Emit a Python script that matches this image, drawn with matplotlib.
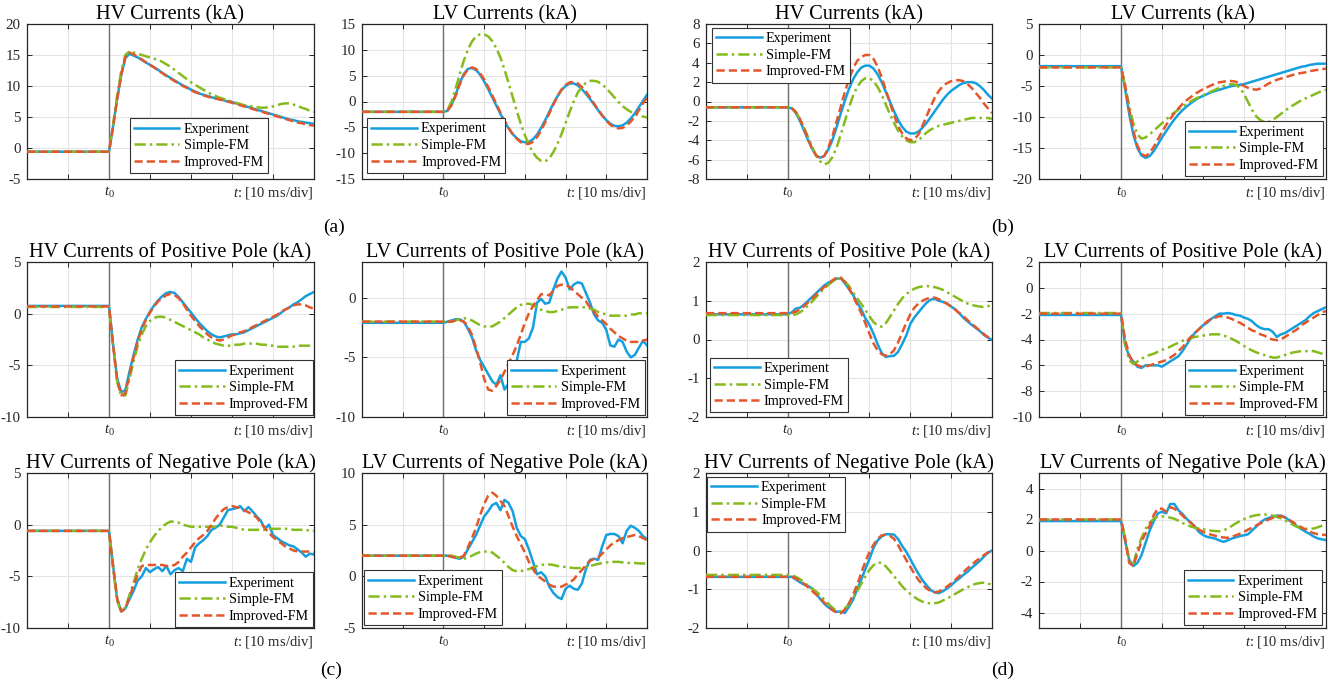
import numpy as np
import matplotlib
matplotlib.use('Agg')
import matplotlib.pyplot as plt

plt.rcParams['font.family'] = ['Liberation Serif', 'DejaVu Serif']
plt.rcParams['mathtext.fontset'] = 'custom'
plt.rcParams['mathtext.rm'] = 'Liberation Serif'
plt.rcParams['mathtext.it'] = 'Liberation Serif:italic'
plt.rcParams['axes.unicode_minus'] = False

W, H = 1342, 685
BLUE, GREEN, RED = '#14a0e0', '#86bb1e', '#e4572a'

# time base in divisions (t0 = 2), sampled every 0.1 div after the fault
t = np.round(np.arange(2.0, 7.05, 0.1), 1)

# ---------------- (a) ----------------
hv_a_exp = [-0.6, 3.5, 8.0, 11.8, 14.5, 15.2, 14.9, 14.6, 14.2, 13.8,
            13.4, 13.0, 12.6, 12.1, 11.7, 11.3, 10.9, 10.5, 10.1, 9.8,
            9.4, 9.1, 8.8, 8.6, 8.4, 8.2, 8.0, 7.9, 7.7, 7.5,
            7.4, 7.2, 7.0, 6.8, 6.6, 6.4, 6.2, 6.0, 5.8, 5.6,
            5.4, 5.2, 5.0, 4.8, 4.6, 4.5, 4.3, 4.2, 4.1, 4.0, 3.9]
hv_a_sim = [-0.6, 3.8, 8.5, 12.5, 15.0, 15.6, 15.4, 15.2, 15.0, 14.8,
            14.6, 14.4, 14.2, 13.9, 13.5, 13.1, 12.6, 12.1, 11.6, 11.1,
            10.6, 10.2, 9.8, 9.4, 9.0, 8.7, 8.4, 8.1, 7.9, 7.7,
            7.5, 7.3, 7.1, 6.9, 6.8, 6.7, 6.6, 6.5, 6.5, 6.6,
            6.7, 6.9, 7.1, 7.2, 7.2, 7.0, 6.8, 6.5, 6.3, 6.0, 5.8]
hv_a_imp = [-0.6, 3.4, 7.9, 11.9, 14.7, 15.4, 15.1, 14.7, 14.3, 13.8,
            13.4, 13.0, 12.5, 12.1, 11.6, 11.2, 10.8, 10.4, 10.0, 9.7,
            9.3, 9.0, 8.8, 8.5, 8.3, 8.1, 8.0, 7.8, 7.7, 7.5,
            7.3, 7.1, 6.9, 6.7, 6.5, 6.3, 6.1, 5.9, 5.7, 5.5,
            5.3, 5.1, 4.9, 4.7, 4.5, 4.3, 4.1, 4.0, 3.8, 3.7, 3.6]

lv_a_exp = [-2.0, -1.8, -0.6, 1.3, 3.6, 5.3, 6.3, 6.5, 6.1, 5.2,
            3.9, 2.4, 0.8, -0.8, -2.4, -3.9, -5.2, -6.3, -7.1, -7.7,
            -7.9, -7.8, -7.3, -6.4, -5.1, -3.6, -2.0, -0.4, 1.0, 2.2,
            3.0, 3.5, 3.5, 3.1, 2.4, 1.5, 0.5, -0.6, -1.7, -2.7,
            -3.6, -4.3, -4.7, -4.8, -4.6, -4.1, -3.3, -2.3, -1.1, 0.1, 1.3]
lv_a_sim = [-2.0, -1.6, 0.0, 2.5, 5.3, 7.9, 10.0, 11.6, 12.6, 13.0,
            13.0, 12.6, 11.7, 10.3, 8.5, 6.2, 3.6, 0.9, -1.8, -4.3,
            -6.5, -8.4, -9.9, -10.9, -11.5, -11.6, -11.0, -9.8, -8.2, -6.3,
            -4.2, -2.0, 0.0, 1.7, 2.9, 3.6, 4.0, 4.0, 3.8, 3.3,
            2.6, 1.7, 0.8, -0.1, -0.9, -1.5, -2.0, -2.4, -2.7, -2.9, -3.1]
lv_a_imp = [-2.0, -1.8, -0.7, 1.1, 3.3, 5.1, 6.2, 6.6, 6.3, 5.5,
            4.3, 2.8, 1.2, -0.5, -2.1, -3.7, -5.1, -6.3, -7.2, -7.9,
            -8.2, -8.2, -7.8, -6.9, -5.6, -4.0, -2.3, -0.6, 1.0, 2.3,
            3.2, 3.7, 3.8, 3.5, 2.8, 1.9, 0.8, -0.4, -1.6, -2.7,
            -3.7, -4.5, -5.0, -5.2, -5.1, -4.7, -3.9, -2.9, -1.7, -0.4, 0.8]

# ---------------- (b) ----------------
hv_b_exp = [-0.6, -0.7, -1.2, -2.0, -3.0, -4.0, -4.9, -5.6, -5.8, -5.6,
            -4.9, -3.9, -2.6, -1.2, 0.1, 1.3, 2.3, 3.0, 3.5, 3.7,
            3.7, 3.4, 2.8, 2.0, 1.0, 0.0, -1.0, -1.9, -2.6, -3.1,
            -3.3, -3.3, -3.1, -2.7, -2.2, -1.6, -1.0, -0.4, 0.2, 0.7,
            1.1, 1.4, 1.7, 1.9, 2.0, 2.0, 1.9, 1.6, 1.2, 0.7, 0.3]
hv_b_sim = [-0.6, -0.7, -1.1, -1.8, -2.7, -3.7, -4.7, -5.6, -6.2, -6.5,
            -6.3, -5.7, -4.7, -3.4, -2.0, -0.6, 0.6, 1.5, 2.1, 2.4,
            2.4, 2.1, 1.5, 0.7, -0.3, -1.3, -2.2, -3.0, -3.6, -4.0,
            -4.2, -4.2, -4.0, -3.6, -3.2, -2.9, -2.7, -2.5, -2.4, -2.3,
            -2.2, -2.1, -2.0, -1.9, -1.8, -1.7, -1.7, -1.7, -1.7, -1.7, -1.8]
hv_b_imp = [-0.6, -0.7, -1.1, -1.8, -2.8, -3.9, -4.9, -5.6, -5.9, -5.6,
            -4.7, -3.5, -2.0, -0.5, 1.0, 2.3, 3.4, 4.2, 4.6, 4.8,
            4.8, 4.4, 3.6, 2.5, 1.2, -0.1, -1.4, -2.5, -3.3, -3.8,
            -4.0, -3.9, -3.4, -2.5, -1.5, -0.5, 0.4, 1.1, 1.6, 1.9,
            2.1, 2.2, 2.2, 2.1, 1.8, 1.4, 0.9, 0.4, -0.2, -0.7, -1.2]

lv_b_exp = [-1.8, -5.5, -9.5, -12.8, -15.0, -16.2, -16.6, -16.3, -15.5, -14.4,
            -13.3, -12.3, -11.3, -10.4, -9.6, -8.9, -8.3, -7.8, -7.3, -6.9,
            -6.6, -6.3, -6.0, -5.8, -5.6, -5.4, -5.2, -5.0, -4.9, -4.8,
            -4.7, -4.5, -4.3, -4.1, -3.9, -3.7, -3.5, -3.3, -3.1, -2.9,
            -2.7, -2.5, -2.3, -2.1, -1.9, -1.8, -1.6, -1.5, -1.4, -1.4, -1.4]
lv_b_sim = [-2.0, -5.0, -8.3, -11.0, -12.8, -13.5, -13.3, -12.8, -12.2, -11.6,
            -11.0, -10.4, -9.8, -9.3, -8.8, -8.3, -7.9, -7.5, -7.1, -6.8,
            -6.5, -6.2, -5.9, -5.6, -5.3, -5.0, -4.8, -4.7, -4.8, -5.3,
            -6.3, -7.6, -8.9, -9.9, -10.5, -10.8, -10.8, -10.5, -10.0, -9.5,
            -9.0, -8.5, -8.1, -7.7, -7.3, -7.0, -6.7, -6.4, -6.1, -5.8, -5.6]
lv_b_imp = [-2.0, -4.8, -8.8, -12.2, -14.6, -16.0, -16.3, -15.8, -14.8, -13.6,
            -12.4, -11.3, -10.3, -9.4, -8.6, -7.9, -7.3, -6.8, -6.3, -5.9,
            -5.5, -5.2, -4.9, -4.6, -4.4, -4.3, -4.2, -4.2, -4.3, -4.6,
            -5.0, -5.3, -5.5, -5.6, -5.4, -5.0, -4.6, -4.3, -4.0, -3.8,
            -3.6, -3.4, -3.2, -3.0, -2.9, -2.8, -2.6, -2.5, -2.4, -2.3, -2.2]

# ---------------- (c) ----------------
hvp_c_exp = [0.75, -3.0, -6.3, -7.6, -7.4, -5.6, -4.0, -2.5, -1.3, -0.5,
             0.2, 0.8, 1.3, 1.7, 2.0, 2.1, 2.0, 1.6, 1.1, 0.6,
             0.1, -0.4, -0.9, -1.3, -1.7, -2.0, -2.2, -2.3, -2.2, -2.1,
             -2.0, -2.0, -1.9, -1.8, -1.6, -1.4, -1.2, -1.0, -0.8, -0.6,
             -0.4, -0.2, 0.1, 0.4, 0.6, 0.9, 1.1, 1.4, 1.7, 1.9, 2.1]
hvp_c_sim = [0.65, -3.2, -6.6, -8.0, -7.9, -6.3, -4.6, -3.1, -2.0, -1.2,
             -0.7, -0.4, -0.3, -0.3, -0.4, -0.6, -0.8, -1.0, -1.2, -1.4,
             -1.6, -1.8, -2.0, -2.3, -2.5, -2.7, -2.9, -3.0, -3.1, -3.1,
             -3.1, -3.0, -3.0, -2.9, -2.9, -2.9, -2.9, -3.0, -3.0, -3.1,
             -3.1, -3.2, -3.2, -3.2, -3.2, -3.2, -3.1, -3.1, -3.1, -3.1, -3.1]
hvp_c_imp = [0.7, -3.0, -6.5, -7.9, -7.7, -5.9, -4.2, -2.7, -1.5, -0.6,
             0.1, 0.7, 1.2, 1.5, 1.8, 1.9, 1.8, 1.5, 1.0, 0.4,
             -0.2, -0.7, -1.2, -1.6, -2.0, -2.3, -2.5, -2.6, -2.5, -2.3,
             -2.1, -2.0, -1.8, -1.7, -1.5, -1.3, -1.1, -0.9, -0.7, -0.5,
             -0.3, -0.1, 0.2, 0.4, 0.6, 0.8, 0.9, 0.9, 0.8, 0.6, 0.5]

lvp_c_exp = [-2.1, -2.0, -1.9, -1.8, -1.8, -2.0, -2.6, -3.3, -4.4, -5.2,
             -5.8, -6.4, -7.0, -7.3, -6.5, -7.7, -7.2, -6.4, -5.3, -3.7,
             -3.7, -3.4, -2.5, -0.4, -0.1, -0.5, -0.4, 0.7, 1.6, 2.2,
             1.7, 0.7, 1.1, 1.3, 1.2, 0.4, -0.4, -1.4, -1.9, -2.1,
             -2.7, -4.0, -4.1, -3.5, -3.7, -4.5, -5.0, -4.8, -4.2, -3.6, -4.0]
lvp_c_sim = [-2.0, -2.0, -2.0, -1.9, -1.8, -1.7, -1.8, -1.9, -2.1, -2.3,
             -2.4, -2.4, -2.4, -2.2, -2.0, -1.7, -1.4, -1.1, -0.8, -0.6,
             -0.5, -0.5, -0.6, -0.8, -1.0, -1.1, -1.2, -1.2, -1.1, -1.0,
             -0.9, -0.8, -0.8, -0.8, -0.8, -0.8, -0.9, -1.0, -1.2, -1.3,
             -1.4, -1.5, -1.5, -1.5, -1.5, -1.5, -1.4, -1.4, -1.3, -1.3, -1.3]
lvp_c_imp = [-2.0, -2.0, -2.0, -1.9, -1.9, -2.0, -2.4, -3.1, -4.2, -5.4,
             -6.8, -7.7, -7.8, -7.4, -6.9, -6.2, -5.5, -4.8, -4.0, -3.1,
             -2.1, -1.3, -0.7, -0.2, 0.3, 0.3, 0.2, 0.6, 1.0, 1.1,
             1.1, 0.9, 0.6, 0.3, 0.0, -0.3, -0.8, -1.2, -1.6, -1.9,
             -2.2, -2.6, -2.9, -3.2, -3.4, -3.6, -3.7, -3.7, -3.7, -3.6, -3.5]

hvn_c_exp = [-0.6, -4.0, -7.2, -8.4, -8.1, -7.2, -6.4, -5.4, -5.0, -4.2,
             -4.6, -4.3, -4.1, -4.5, -4.0, -4.8, -4.4, -4.2, -4.5, -3.3,
             -3.6, -2.2, -1.8, -1.5, -1.1, -0.5, -0.3, 0.0, 0.7, 1.4,
             1.5, 1.6, 1.8, 1.3, 1.7, 1.3, 0.8, 0.4, -0.4, 0.0,
             -1.0, -1.3, -1.6, -1.8, -2.0, -2.1, -2.4, -2.7, -3.1, -2.8, -2.9]
hvn_c_sim = [-0.6, -4.2, -7.4, -8.4, -8.0, -6.8, -5.6, -4.3, -3.3, -2.4,
             -1.7, -1.1, -0.6, -0.2, 0.1, 0.3, 0.3, 0.2, 0.0, -0.1,
             -0.2, -0.2, -0.2, -0.2, -0.2, -0.2, -0.2, -0.1, -0.1, -0.2,
             -0.2, -0.3, -0.4, -0.5, -0.5, -0.5, -0.5, -0.5, -0.5, -0.4,
             -0.4, -0.4, -0.4, -0.4, -0.4, -0.5, -0.5, -0.5, -0.5, -0.6, -0.6]
hvn_c_imp = [-0.6, -4.0, -7.2, -8.4, -8.1, -7.0, -5.9, -4.8, -4.0, -3.9,
             -3.9, -3.9, -3.9, -3.9, -4.0, -4.0, -3.9, -3.6, -3.1, -2.7,
             -2.2, -1.7, -1.3, -1.0, -0.6, 0.0, 0.6, 1.1, 1.5, 1.7,
             1.8, 1.7, 1.6, 1.4, 1.2, 1.0, 0.7, 0.2, -0.3, -0.8,
             -1.2, -1.5, -1.8, -2.1, -2.3, -2.5, -2.6, -2.6, -2.6, -2.6, -2.7]

lvn_c_exp = [2.0, 2.0, 1.9, 1.8, 1.7, 1.9, 2.6, 3.3, 4.0, 4.9,
             5.8, 6.3, 6.9, 7.1, 6.4, 7.4, 7.1, 6.3, 4.7, 3.9,
             3.6, 2.6, 1.4, 0.2, 0.4, 0.0, -1.0, -1.6, -2.0, -2.2,
             -1.2, -0.9, -1.2, -1.3, -0.7, 0.7, 1.6, 1.7, 1.6, 2.9,
             4.0, 4.1, 4.1, 3.9, 3.2, 4.4, 4.9, 4.7, 4.4, 3.9, 3.6]
lvn_c_sim = [2.0, 2.0, 2.0, 1.9, 1.8, 1.7, 1.8, 2.0, 2.2, 2.35,
             2.4, 2.4, 2.3, 2.0, 1.7, 1.3, 0.9, 0.6, 0.5, 0.5,
             0.6, 0.7, 0.85, 1.0, 1.1, 1.15, 1.15, 1.1, 1.0, 0.95,
             0.9, 0.85, 0.8, 0.8, 0.8, 0.9, 1.0, 1.1, 1.2, 1.3,
             1.35, 1.4, 1.4, 1.4, 1.35, 1.3, 1.3, 1.3, 1.25, 1.25, 1.25]
lvn_c_imp = [2.0, 2.0, 1.9, 1.8, 1.8, 2.0, 2.8, 3.7, 4.7, 5.9,
             7.0, 7.8, 8.1, 7.8, 7.3, 6.8, 5.8, 4.8, 3.9, 3.1,
             2.3, 1.4, 0.7, 0.1, -0.2, -0.5, -0.8, -1.0, -1.0, -1.0,
             -0.8, -0.6, -0.3, 0.2, 0.6, 1.1, 1.5, 1.7, 1.8, 2.2,
             2.6, 3.0, 3.3, 3.5, 3.7, 3.8, 3.9, 4.0, 3.9, 3.7, 3.5]

# ---------------- (d) ----------------
hvp_d_exp = [0.65, 0.7, 0.8, 0.82, 0.9, 1.0, 1.1, 1.2, 1.3, 1.4,
             1.47, 1.52, 1.57, 1.58, 1.45, 1.3, 1.15, 0.95, 0.78, 0.55,
             0.38, 0.15, -0.12, -0.35, -0.45, -0.43, -0.42, -0.32, -0.12, 0.1,
             0.4, 0.57, 0.7, 0.83, 0.95, 1.03, 1.05, 1.0, 0.97, 0.93,
             0.85, 0.78, 0.68, 0.56, 0.47, 0.38, 0.3, 0.22, 0.12, 0.05, -0.01]
hvp_d_sim = [0.63, 0.63, 0.65, 0.7, 0.78, 0.88, 0.98, 1.1, 1.22, 1.32,
             1.41, 1.5, 1.56, 1.57, 1.5, 1.38, 1.22, 1.06, 0.92, 0.76,
             0.6, 0.45, 0.36, 0.33, 0.42, 0.58, 0.75, 0.92, 1.06, 1.17,
             1.25, 1.31, 1.35, 1.37, 1.38, 1.37, 1.35, 1.32, 1.28, 1.22,
             1.16, 1.1, 1.04, 0.98, 0.93, 0.89, 0.87, 0.85, 0.84, 0.86, 0.9]
hvp_d_imp = [0.68, 0.69, 0.72, 0.78, 0.86, 0.96, 1.06, 1.16, 1.26, 1.36,
             1.44, 1.53, 1.6, 1.6, 1.48, 1.32, 1.12, 0.9, 0.68, 0.42,
             0.15, -0.1, -0.28, -0.38, -0.42, -0.38, -0.28, -0.08, 0.18, 0.42,
             0.65, 0.82, 0.93, 1.0, 1.05, 1.08, 1.08, 1.04, 0.98, 0.92,
             0.85, 0.77, 0.68, 0.6, 0.5, 0.41, 0.32, 0.23, 0.14, 0.06, 0.0]

lvp_d_exp = [-2.1, -4.4, -5.3, -5.7, -6.1, -6.2, -6.0, -6.0, -6.0, -6.0,
             -6.1, -5.9, -5.7, -5.5, -5.3, -4.9, -4.4, -3.9, -3.5, -3.2,
             -2.9, -2.7, -2.4, -2.2, -2.0, -2.0, -1.95, -2.0, -2.1, -2.15,
             -2.3, -2.4, -2.6, -2.9, -3.1, -3.2, -3.2, -3.4, -3.8, -3.6,
             -3.5, -3.3, -3.1, -2.9, -2.7, -2.5, -2.2, -1.95, -1.8, -1.65, -1.5]
lvp_d_sim = [-1.95, -4.3, -5.6, -5.9, -5.7, -5.5, -5.3, -5.2, -5.1, -4.95,
             -4.8, -4.7, -4.55, -4.4, -4.25, -4.1, -4.0, -3.9, -3.8, -3.75,
             -3.7, -3.65, -3.6, -3.6, -3.6, -3.7, -3.8, -3.95, -4.1, -4.3,
             -4.5, -4.7, -4.85, -5.0, -5.1, -5.2, -5.3, -5.4, -5.4, -5.3,
             -5.2, -5.1, -5.0, -4.95, -4.9, -4.9, -4.9, -4.9, -5.0, -5.1, -5.2]
lvp_d_imp = [-2.0, -4.0, -5.2, -5.8, -6.0, -6.1, -6.1, -6.0, -5.9, -5.8,
             -5.7, -5.6, -5.4, -5.2, -4.9, -4.6, -4.2, -3.8, -3.5, -3.2,
             -2.9, -2.6, -2.4, -2.3, -2.2, -2.2, -2.3, -2.4, -2.6, -2.7,
             -2.9, -3.1, -3.3, -3.4, -3.6, -3.7, -3.9, -4.0, -4.05, -4.0,
             -3.8, -3.6, -3.4, -3.2, -2.9, -2.7, -2.5, -2.3, -2.1, -1.9, -1.8]

hvn_d_exp = [-0.68, -0.68, -0.75, -0.82, -0.88, -0.92, -0.98, -1.12, -1.26, -1.38,
             -1.47, -1.54, -1.58, -1.58, -1.61, -1.45, -1.27, -1.0, -0.75, -0.48,
             -0.22, 0.07, 0.26, 0.36, 0.42, 0.42, 0.41, 0.3, 0.12, -0.03,
             -0.22, -0.42, -0.6, -0.77, -0.9, -1.02, -1.08, -1.1, -1.05, -0.98,
             -0.9, -0.8, -0.72, -0.63, -0.55, -0.45, -0.36, -0.27, -0.16, -0.06, 0.0]
hvn_d_sim = [-0.63, -0.64, -0.68, -0.74, -0.82, -0.91, -0.99, -1.06, -1.16, -1.27,
             -1.38, -1.48, -1.56, -1.58, -1.5, -1.38, -1.22, -1.05, -0.86, -0.67,
             -0.5, -0.38, -0.31, -0.32, -0.41, -0.53, -0.66, -0.79, -0.92, -1.03,
             -1.12, -1.2, -1.27, -1.32, -1.35, -1.37, -1.36, -1.34, -1.29, -1.24,
             -1.18, -1.12, -1.06, -1.0, -0.95, -0.9, -0.86, -0.84, -0.83, -0.85, -0.89]
hvn_d_imp = [-0.68, -0.68, -0.72, -0.78, -0.86, -0.95, -1.05, -1.14, -1.24, -1.35,
             -1.45, -1.54, -1.61, -1.62, -1.52, -1.36, -1.14, -0.88, -0.58, -0.29,
             -0.04, 0.15, 0.3, 0.39, 0.41, 0.38, 0.3, 0.14, -0.05, -0.24,
             -0.42, -0.6, -0.76, -0.88, -0.98, -1.05, -1.08, -1.06, -1.0, -0.93,
             -0.85, -0.76, -0.66, -0.56, -0.46, -0.37, -0.28, -0.2, -0.12, -0.05, 0.01]

lvn_d_exp = [1.9, 0.6, -0.6, -1.0, -0.8, -0.3, 0.5, 1.3, 1.9, 2.4,
             2.5, 2.4, 3.0, 3.0, 2.6, 2.35, 2.05, 1.8, 1.55, 1.2,
             1.0, 0.88, 0.82, 0.77, 0.65, 0.56, 0.65, 0.77, 0.85, 0.93,
             0.98, 1.05, 1.3, 1.55, 1.8, 2.0, 2.1, 2.18, 2.25, 2.25,
             2.15, 1.95, 1.76, 1.55, 1.38, 1.22, 1.07, 0.9, 0.78, 0.72, 0.67]
lvn_d_sim = [2.0, 0.8, -0.7, -0.9, 0.1, 0.8, 1.4, 1.8, 2.05, 2.2,
             2.2, 2.18, 2.12, 2.05, 1.92, 1.78, 1.65, 1.55, 1.47, 1.42,
             1.37, 1.32, 1.28, 1.25, 1.24, 1.3, 1.42, 1.58, 1.75, 1.9,
             2.03, 2.13, 2.22, 2.28, 2.31, 2.32, 2.3, 2.25, 2.17, 2.07,
             1.94, 1.8, 1.65, 1.52, 1.44, 1.4, 1.4, 1.42, 1.5, 1.6, 1.7]
lvn_d_imp = [2.0, 0.8, -0.8, -1.0, -0.2, 0.6, 1.1, 1.6, 2.3, 2.7,
             2.7, 2.5, 2.8, 2.7, 2.5, 2.25, 2.0, 1.8, 1.55, 1.35,
             1.2, 1.1, 1.02, 0.95, 0.88, 0.84, 0.82, 0.88, 0.98, 1.08,
             1.2, 1.35, 1.48, 1.62, 1.75, 1.88, 2.0, 2.1, 2.2, 2.22,
             2.12, 1.98, 1.82, 1.65, 1.5, 1.35, 1.22, 1.12, 1.05, 1.02, 1.0]

# axes boxes in pixels: left, top, right, bottom
cols = [(27, 314), (362, 647), (706, 992), (1039, 1326)]
rows = [(24, 179), (262, 417), (473, 628)]

panels = [
    ('HV Currents (kA)', hv_a_exp, hv_a_sim, hv_a_imp, 0, 0, (-5, 20), range(-5, 21, 5), 'lower right', (0.84, 0.039)),
    ('LV Currents (kA)', lv_a_exp, lv_a_sim, lv_a_imp, 0, 1, (-15, 15), range(-15, 16, 5), 'lower left', (0.018, 0.04)),
    ('HV Currents (kA)', hv_b_exp, hv_b_sim, hv_b_imp, 0, 2, (-8, 8), range(-8, 9, 2), 'upper left', (0.021, 0.974)),
    ('LV Currents (kA)', lv_b_exp, lv_b_sim, lv_b_imp, 0, 3, (-20, 5), range(-20, 6, 5), 'lower right', (0.99, 0.02)),
    ('HV Currents of Positive Pole (kA)', hvp_c_exp, hvp_c_sim, hvp_c_imp, 1, 0, (-10, 5), range(-10, 6, 5), 'lower right', (0.997, 0.013)),
    ('LV Currents of Positive Pole (kA)', lvp_c_exp, lvp_c_sim, lvp_c_imp, 1, 1, (-10, 3), range(-10, 1, 5), 'lower right', (0.993, 0.013)),
    ('HV Currents of Positive Pole (kA)', hvp_d_exp, hvp_d_sim, hvp_d_imp, 1, 2, (-2, 2), range(-2, 3, 1), 'lower left', (0.014, 0.03)),
    ('LV Currents of Positive Pole (kA)', lvp_d_exp, lvp_d_sim, lvp_d_imp, 1, 3, (-10, 2), range(-10, 3, 2), 'lower right', (0.99, 0.013)),
    ('HV Currents of Negative Pole (kA)', hvn_c_exp, hvn_c_sim, hvn_c_imp, 2, 0, (-10, 5), range(-10, 6, 5), 'lower right', (0.997, 0.006)),
    ('LV Currents of Negative Pole (kA)', lvn_c_exp, lvn_c_sim, lvn_c_imp, 2, 1, (-5, 10), range(-5, 11, 5), 'lower left', (0.007, 0.02)),
    ('HV Currents of Negative Pole (kA)', hvn_d_exp, hvn_d_sim, hvn_d_imp, 2, 2, (-2, 2), range(-2, 3, 1), 'upper left', (0.004, 0.974)),
    ('LV Currents of Negative Pole (kA)', lvn_d_exp, lvn_d_sim, lvn_d_imp, 2, 3, (-5, 5), range(-4, 5, 2), 'lower right', (0.986, 0.02)),
]

fig = plt.figure(figsize=(W / 100, H / 100), dpi=100)
xs = np.concatenate([[0.0], t])

for title, exp, sim, imp, r, c, ylim, yticks, loc, anchor in panels:
    left, right = cols[c]
    top, bottom = rows[r]
    ax = fig.add_axes([left / W, 1 - bottom / H, (right - left) / W, (bottom - top) / H])

    ax.axvline(2, color='#6e6e6e', lw=1.0, zorder=1)
    ax.plot(xs, [exp[0]] + exp, color=BLUE, lw=1.8, label='Experiment', zorder=3)
    ax.plot(xs, [sim[0]] + sim, color=GREEN, lw=1.8, ls=(0, (4.5, 1.6, 1.0, 1.6)),
            label='Simple-FM', zorder=4)
    ax.plot(xs, [imp[0]] + imp, color=RED, lw=1.8, ls=(0, (3.3, 1.6)),
            label='Improved-FM', zorder=5)

    ax.set_xlim(0, 7)
    ax.set_ylim(*ylim)
    ax.set_xticks(range(8))
    ax.set_xticklabels(['', '', r'$t_0$', '', '', '', '', ''])
    ax.set_yticks(list(yticks))
    ax.tick_params(direction='in', top=True, right=True, length=3.5, width=0.7,
                   labelsize=10.8, colors='#262626', pad=4.5)
    ax.grid(True, color='#e4e4e4', lw=0.8)
    ax.set_axisbelow(True)
    for s in ax.spines.values():
        s.set_color('#262626')
        s.set_linewidth(0.9)

    ax.set_title(title, fontsize=14.7, pad=3.5)
    ax.annotate(r'$t$: [10 ms/div]', xy=(1, 0), xycoords='axes fraction',
                xytext=(0, -4.5), textcoords='offset points',
                ha='right', va='top', fontsize=10.5, color='#262626')

    leg = ax.legend(loc=loc, bbox_to_anchor=anchor, fontsize=10.2, handlelength=3.2,
                    handletextpad=0.3, labelspacing=0.25, borderpad=0.3,
                    borderaxespad=0, fancybox=False, framealpha=1,
                    edgecolor='#333333')
    leg.get_frame().set_linewidth(0.8)

fig.text(334 / W, 1 - 227 / H, '(a)', ha='center', va='center', fontsize=14)
fig.text(1003 / W, 1 - 227 / H, '(b)', ha='center', va='center', fontsize=14)
fig.text(331 / W, 1 - 670 / H, '(c)', ha='center', va='center', fontsize=14)
fig.text(1003 / W, 1 - 670 / H, '(d)', ha='center', va='center', fontsize=14)

fig.savefig('out.png', dpi=100)
